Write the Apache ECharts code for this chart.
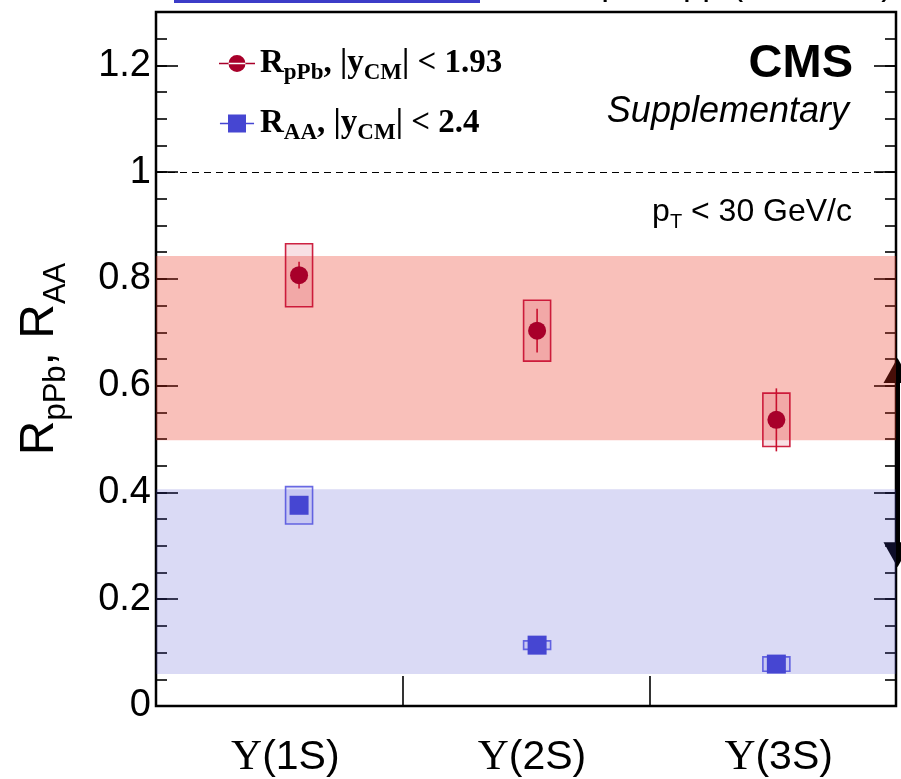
<!DOCTYPE html>
<html>
<head>
<meta charset="utf-8">
<script src="https://cdn.jsdelivr.net/npm/echarts@6/dist/echarts.min.js"></script>
<style>
  html, body { margin: 0; padding: 0; background: #ffffff; }
  #chart { width: 901px; height: 779px; }
</style>
</head>
<body>
<div id="chart"></div>
<script>
// Upsilon states and where each one sits along the x axis
const states = ['Υ(1S)', 'Υ(2S)', 'Υ(3S)'];
const statePos = [0.58, 1.545, 2.515];

// R_pPb (|y_CM| < 1.93): central value, statistical and systematic half-widths
const rpPb = [0.807, 0.703, 0.536];
const rpPbStat = [0.025, 0.041, 0.059];
const rpPbSyst = [0.059, 0.057, 0.050];

// R_AA (|y_CM| < 2.4)
const rAA = [0.376, 0.114, 0.0785];
const rAAStat = [0.012, 0.008, 0.008];
const rAASyst = [0.035, 0.008, 0.0135];

// Global bands
const rpPbBand = [0.498, 0.843];
const rAABand = [0.060, 0.406];

// Double-headed arrow on the right edge
const arrowAt = 3;
const arrowSpan = [0.26, 0.652];

// Reference line
const unity = 1;

// Axis ranges
const xRange = [0, 3];
const yRange = [0, 1.3];

const FONT = '"Liberation Sans", Helvetica, Arial, sans-serif';
const SERIF = '"Liberation Serif", "Times New Roman", serif';

function points(vals, stat, syst) {
  return vals.map((v, i) => [statePos[i], v, stat[i], syst[i]]);
}

function boxRenderer(fill, stroke, barColor) {
  return function (params, api) {
    const x = api.value(0), y = api.value(1), st = api.value(2), sy = api.value(3);
    const c = api.coord([x, y]);
    const top = api.coord([x, y + sy]);
    const bot = api.coord([x, y - sy]);
    const sTop = api.coord([x, y + st]);
    const sBot = api.coord([x, y - st]);
    const hw = 13.5;
    return {
      type: 'group',
      children: [
        { type: 'rect', shape: { x: c[0] - hw, y: top[1], width: 2 * hw, height: bot[1] - top[1] },
          style: { fill: fill, stroke: stroke, lineWidth: 1.6 } },
        { type: 'line', shape: { x1: c[0], y1: sTop[1], x2: c[0], y2: sBot[1] },
          style: { stroke: barColor, lineWidth: 1.6 } }
      ]
    };
  };
}

function arrowRenderer(params, api) {
  const x = api.value(0);
  const lo = api.coord([x, api.value(1)]);
  const hi = api.coord([x, api.value(2)]);
  const headL = 25, headW = 14;
  const cx = hi[0] + 1.5;
  return {
    type: 'group',
    children: [
      { type: 'line', shape: { x1: cx, y1: hi[1] + headL - 2, x2: cx, y2: lo[1] - headL + 2 },
        style: { stroke: '#000', lineWidth: 5 } },
      { type: 'polygon', shape: { points: [[cx, hi[1]], [cx - headW, hi[1] + headL], [cx + headW, hi[1] + headL]] },
        style: { fill: '#000' } },
      { type: 'polygon', shape: { points: [[cx, lo[1]], [cx - headW, lo[1] - headL], [cx + headW, lo[1] - headL]] },
        style: { fill: '#000' } }
    ]
  };
}

const subRich = {
  r: { fontFamily: SERIF, fontWeight: 'bold', fontSize: 33, lineHeight: 36, color: '#000' },
  s: { fontFamily: SERIF, fontWeight: 'bold', fontSize: 23, lineHeight: 23, padding: [20, 0, 0, 0], color: '#000' }
};

const yMajor = {
  type: 'value', min: yRange[0], max: yRange[1], interval: 0.2,
  axisLine: { show: false }, splitLine: { show: false },
  axisTick: { show: true, inside: true, length: 22, lineStyle: { color: '#000', width: 1.6 } }
};
const yMinor = {
  type: 'value', min: yRange[0], max: yRange[1], interval: 0.05,
  axisLine: { show: false }, splitLine: { show: false }, axisLabel: { show: false },
  axisTick: { show: true, inside: true, length: 11, lineStyle: { color: '#000', width: 1.6 } }
};

const chart = echarts.init(document.getElementById('chart'), null, { renderer: 'canvas' });

chart.setOption({
  animation: false,
  backgroundColor: '#ffffff',
  grid: { left: 154, top: 12, width: 742, height: 695, show: true, borderColor: '#000', borderWidth: 2.5, backgroundColor: 'transparent' },
  xAxis: [
    {
      type: 'value', min: xRange[0], max: xRange[1], interval: 1,
      axisLine: { show: false }, splitLine: { show: false }, axisLabel: { show: false },
      axisTick: { show: true, inside: true, length: 30, lineStyle: { color: '#000', width: 1.6 } }
    },
    {
      type: 'category', data: states, position: 'bottom', boundaryGap: true,
      axisLine: { show: false }, axisTick: { show: false }, splitLine: { show: false },
      axisLabel: {
        margin: 30,
        formatter: v => '{u|' + v.charAt(0) + '}{n|' + v.slice(1) + '}',
        rich: {
          u: { fontFamily: SERIF, fontSize: 43, color: '#000', padding: [0, 0, 0, 12] },
          n: { fontFamily: FONT, fontSize: 41, color: '#000' }
        }
      }
    }
  ],
  yAxis: [
    Object.assign({}, yMajor, {
      position: 'left',
      axisLabel: {
        show: true, margin: 5, color: '#000', fontFamily: FONT, fontSize: 38,
        formatter: v => (Math.abs(v * 5 - Math.round(v * 5)) < 1e-6 ? String(+v.toFixed(1)) : '')
      },
      name: '{r|R}{s|pPb}{r|, R}{s|AA}',
      nameLocation: 'middle', nameGap: 90,
      nameTextStyle: {
        rich: {
          r: { fontFamily: FONT, fontSize: 48, lineHeight: 52, color: '#000' },
          s: { fontFamily: FONT, fontSize: 31, lineHeight: 31, padding: [33, 0, 0, 0], color: '#000' }
        }
      }
    }),
    Object.assign({}, yMinor, { position: 'left' }),
    Object.assign({}, yMajor, { position: 'right', axisLabel: { show: false } }),
    Object.assign({}, yMinor, { position: 'right' })
  ],
  legend: {
    orient: 'vertical', left: 214, top: 37, itemGap: 17,
    itemWidth: 36, itemHeight: 18,
    data: [
      { name: 'pPb', icon: 'path://M0,8.2h36v1.6h-36z M9.5,9a8.5,8.5 0 1,0 17,0a8.5,8.5 0 1,0 -17,0z' },
      { name: 'AA', icon: 'path://M0,8.7h36v1.6h-36z M8.5,0h19v19h-19z' }
    ],
    formatter: name => name === 'pPb'
      ? '{r|R}{s|pPb}{r|, |y}{s|CM}{r|| < 1.93}'
      : '{r|R}{s|AA}{r|, |y}{s|CM}{r|| < 2.4}',
    textStyle: { rich: subRich, padding: [0, 0, 0, 0] }
  },
  graphic: [
    { type: 'rect', left: 174, top: 0, shape: { width: 306, height: 3 }, style: { fill: '#3c3cc8' } },
    { type: 'text', right: 8, top: -32, style: { text: 'PbPb, pPb, pp (5.02 TeV)', font: '35px ' + FONT, fill: '#000' } },
    { type: 'text', right: 48, top: 41, style: { text: 'CMS', font: 'bold 47px ' + FONT, fill: '#000' } },
    { type: 'text', right: 52, top: 94, style: { text: 'Supplementary', font: 'italic 36px ' + FONT, fill: '#000' } },
    { type: 'text', right: 49, top: 193, style: {
        text: '{a|p}{b|T}{a| < 30 GeV/c}',
        rich: {
          a: { fontFamily: FONT, fontSize: 32, lineHeight: 34, fill: '#000' },
          b: { fontFamily: FONT, fontSize: 20, lineHeight: 20, padding: [19, 0, 0, 0], fill: '#000' }
        }
    } }
  ],
  series: [
    {
      // arrow sits under the translucent bands
      name: 'arrow', type: 'custom', xAxisIndex: 0, yAxisIndex: 0, z: 1, clip: false,
      renderItem: arrowRenderer,
      data: [[arrowAt, arrowSpan[0], arrowSpan[1]]],
      silent: true
    },
    {
      name: 'bands', type: 'line', xAxisIndex: 0, yAxisIndex: 0, z: 2, data: [], silent: true,
      markArea: {
        silent: true, z: 3,
        data: [
          [{ yAxis: rpPbBand[0], itemStyle: { color: 'rgba(235,48,28,0.30)' } }, { yAxis: rpPbBand[1] }],
          [{ yAxis: rAABand[0], itemStyle: { color: 'rgba(70,70,205,0.20)' } }, { yAxis: rAABand[1] }]
        ]
      },
      markLine: {
        silent: true, symbol: ['none', 'none'], label: { show: false }, z: 3,
        lineStyle: { color: '#000', width: 1.2, type: [7, 5] },
        data: [{ yAxis: unity }]
      }
    },
    {
      name: 'pPb boxes', type: 'custom', xAxisIndex: 0, yAxisIndex: 0, z: 4,
      renderItem: boxRenderer('rgba(200,0,30,0.12)', 'rgba(200,10,45,0.9)', '#c8102e'),
      data: points(rpPb, rpPbStat, rpPbSyst)
    },
    {
      name: 'AA boxes', type: 'custom', xAxisIndex: 0, yAxisIndex: 0, z: 4,
      renderItem: boxRenderer('rgba(70,70,220,0.12)', 'rgba(70,70,220,0.8)', '#4646d2'),
      data: points(rAA, rAAStat, rAASyst)
    },
    {
      name: 'pPb', type: 'scatter', xAxisIndex: 0, yAxisIndex: 0, z: 5,
      symbol: 'circle', symbolSize: 18,
      itemStyle: { color: '#a8002a', opacity: 1 },
      data: rpPb.map((v, i) => [statePos[i], v])
    },
    {
      name: 'AA', type: 'scatter', xAxisIndex: 0, yAxisIndex: 0, z: 5,
      symbol: 'rect', symbolSize: 19,
      itemStyle: { color: '#4646d2', opacity: 1 },
      data: rAA.map((v, i) => [statePos[i], v])
    }
  ]
});
</script>
</body>
</html>
